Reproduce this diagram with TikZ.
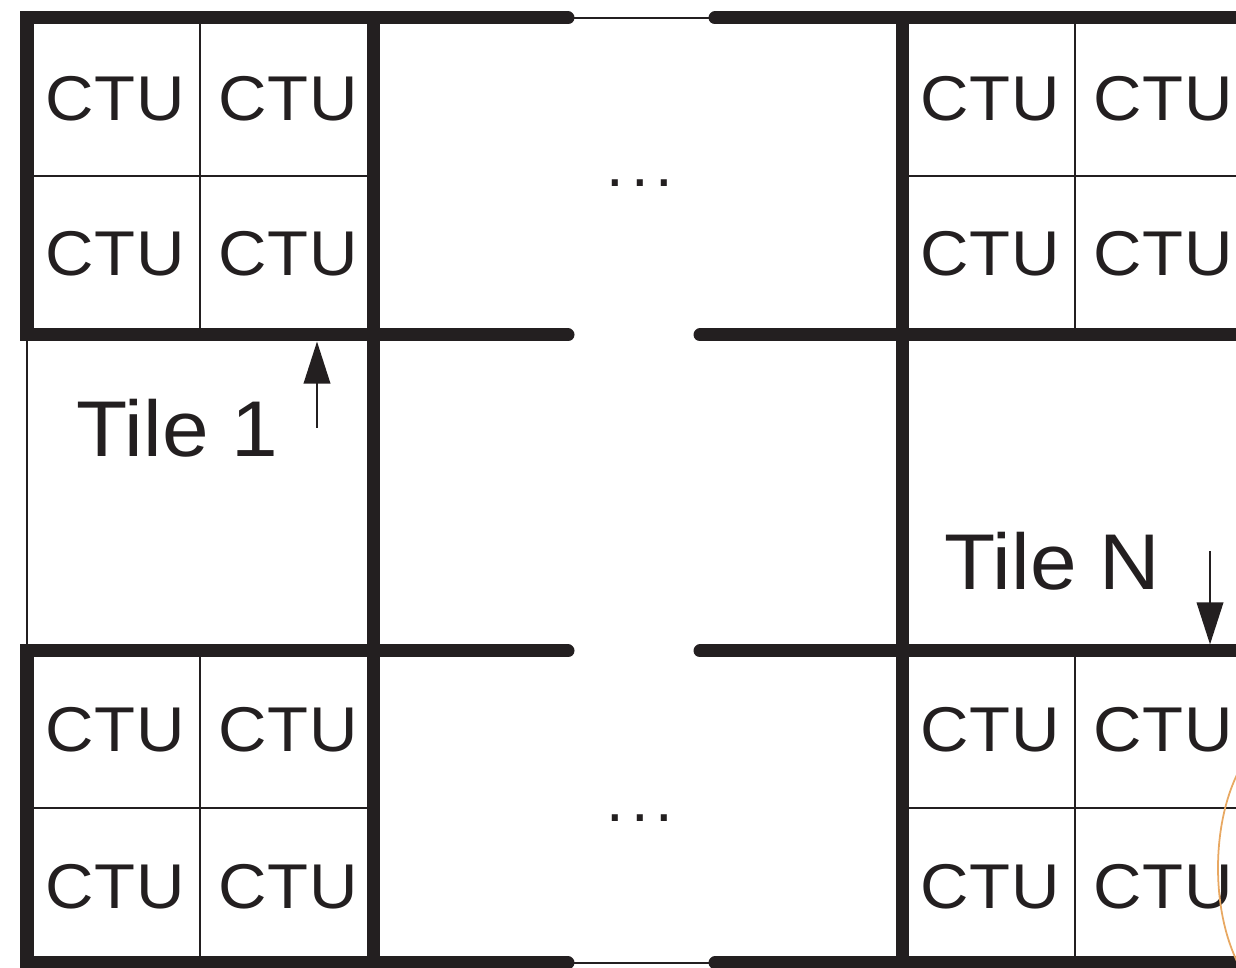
\documentclass[tikz,border=0pt]{standalone}
\usepackage{fontspec}
\setmainfont{Liberation Sans}
\newfontfamily\widesans[FakeStretch=1.06]{Liberation Sans}
\usetikzlibrary{arrows.meta}
\definecolor{ink}{RGB}{35,31,32}
\definecolor{tilearc}{RGB}{232,168,98}

\begin{document}
\begin{tikzpicture}[
  tileframe/.style={ink, line width=3.7pt, line cap=round, line join=miter},
  ctuline/.style={ink, line width=0.7pt},
  joinline/.style={ink, line width=0.5pt},
  ctu/.style={inner sep=0pt, text=ink, font=\widesans\fontsize{18}{18}\selectfont\addfontfeature{LetterSpace=1.5}},
  tilelabel/.style={inner sep=0pt, anchor=base west, text=ink, font=\widesans\fontsize{22.5}{22.5}\selectfont},
  dotsgap/.style={inner sep=0pt, text=ink, font=\fontsize{18}{18}\selectfont\addfontfeature{LetterSpace=11}},
  pointer/.style={ink, line width=0.8pt, -{Triangle[length=12pt, width=7.5pt]}}
]
\useasboundingbox (0,0) rectangle (12.36,9.68);

% Rejilla de CTUs
	\foreach \x in {2.00, 10.75} {
		\draw[ctuline] (\x,9.50) -- (\x,6.33);
		\draw[ctuline] (\x,3.17) -- (\x,0.05);
	}
	\draw[ctuline] (0.27,7.92) -- (3.73,7.92);
	\draw[ctuline] (0.27,1.60) -- (3.73,1.60);
	\draw[ctuline] (9.02,7.92) -- (12.36,7.92);
	\draw[ctuline] (9.02,1.60) -- (12.36,1.60);
	\draw[ctuline] (0.27,6.33) -- (0.27,3.17);

% Bordes de los tiles
	\draw[tileframe] (5.68,9.50) -- (0.27,9.50) -- (0.27,6.33) -- (5.68,6.33);
	\draw[tileframe] (5.68,3.17) -- (0.27,3.17) -- (0.27,0.05) -- (5.68,0.05);
	\foreach \y in {9.50, 0.05}
		\draw[tileframe] (7.15,\y) -- (12.36,\y);
	\foreach \y in {6.33, 3.17}
		\draw[tileframe] (7.00,\y) -- (12.36,\y);
	\foreach \x in {3.73, 9.02}
		\draw[tileframe, line cap=butt] (\x,9.50) -- (\x,0);
	\foreach \y in {9.50, 0.05}
		\draw[joinline] (5.68,\y) -- (7.15,\y);

% CTUs
	\foreach \x [count=\i] in {1.15, 2.88, 9.90, 11.63}
		\foreach \y [count=\j] in {8.69, 7.14, 2.38, 0.81}
			\node[ctu] (ctu\i\j) at (\x,\y) {CTU};

	\node[dotsgap] (dotstop) at (6.40,7.85) {...};
	\node[dotsgap] (dotsbot) at (6.40,1.50) {...};

% Tiles
	\node[tilelabel] (tile1) at (0.76,5.11) {Tile 1};
	\node[tilelabel] (tileN) at (9.44,3.78) {Tile N};
	\coordinate (tile1tail) at (3.17,5.40);
	\coordinate (tile1head) at (3.17,6.265);
	\coordinate (tileNtail) at (12.10,4.17);
	\coordinate (tileNhead) at (12.10,3.235);
	\draw[pointer] (tile1tail) -- (tile1head);
	\draw[pointer] (tileNtail) -- (tileNhead);

\begin{scope}
	\clip (0,0) rectangle (12.36,9.68);
	\draw[tilearc, line width=0.5pt] (12.90,1.00) ellipse [x radius=0.72, y radius=1.38];
\end{scope}
\end{tikzpicture}
\end{document}
